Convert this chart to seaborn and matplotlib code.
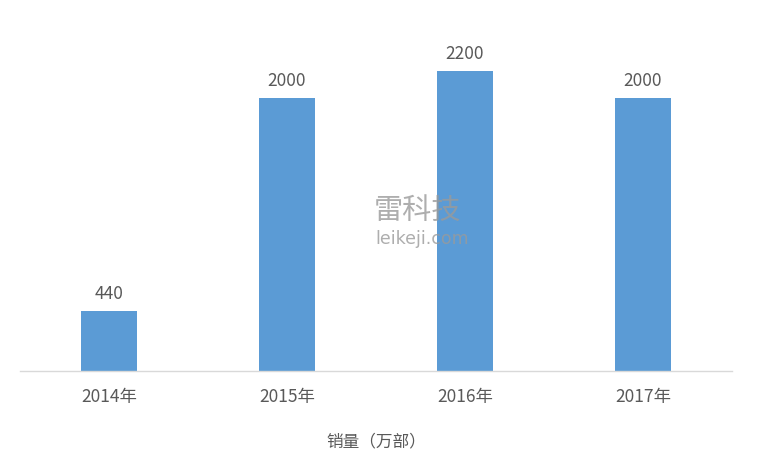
import matplotlib
matplotlib.use("Agg")
import matplotlib.pyplot as plt
import seaborn as sns
import pandas as pd

categories = ["2014年", "2015年", "2016年", "2017年"]
sales = [440, 2000, 2200, 2000]
xlabel = "销量（万部）"

sns.set_theme(style="white")
plt.rcParams['font.family'] = ['Noto Sans CJK SC', 'DejaVu Sans']

df = pd.DataFrame({"year": categories, "sales": sales})

fig = plt.figure(figsize=(7.77, 4.55), dpi=100)
ax = fig.add_axes([20/777, 84/455, 712/777, 341/455])
sns.barplot(data=df, x="year", y="sales", color="#5B9BD5", saturation=1,
            width=0.314, linewidth=0, ax=ax)
ax.set_xlim(-0.5, 3.5)
ax.set_ylim(0, 2500)
for c in ax.containers:
    ax.bar_label(c, padding=6, fontsize=12.5, color="#595959")
ax.set_yticks([])
ax.set_ylabel("")
ax.set_xlabel(xlabel, fontsize=12, color="#595959", labelpad=20)
ax.tick_params(axis="x", length=0, pad=12, labelsize=12.5, labelcolor="#595959")
for s in ["top", "right", "left"]:
    ax.spines[s].set_visible(False)
ax.spines["bottom"].set_color("#D9D9D9")
ax.spines["bottom"].set_linewidth(1)

# watermark
fig.text(374/777, 1 - 211/455, "雷科技", fontsize=21, color="#9a9a9a", alpha=0.8,
         ha="left", va="center")
fig.text(375/777, 1 - 239/455, "leikeji.com", fontsize=12.5, color="#9a9a9a", alpha=0.8,
         ha="left", va="center", family=['DejaVu Sans'])

fig.savefig("out.png", dpi=100)
